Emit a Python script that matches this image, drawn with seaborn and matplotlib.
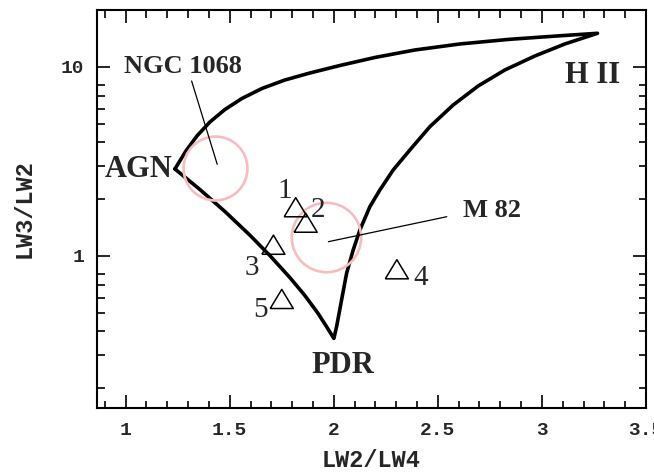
import matplotlib
matplotlib.use("Agg")
import matplotlib.pyplot as plt
from matplotlib.ticker import FixedLocator, NullFormatter
import numpy as np
import pandas as pd
import seaborn as sns

# Model boundary: AGN -> H II (upper branch)
upper_x = [1.2368, 1.2896, 1.3425, 1.4049, 1.4770, 1.5586, 1.6547, 1.7651,
           1.8852, 2.0293, 2.1974, 2.3895, 2.6057, 2.8458, 3.0860, 3.2671]
upper_y = [2.882, 3.587, 4.305, 5.105, 5.941, 6.792, 7.671, 8.506,
           9.262, 10.146, 11.186, 12.254, 13.183, 13.957, 14.565, 15.013]

# H II -> PDR branch
right_x = [3.2671, 3.1100, 2.9659, 2.8218, 2.6935, 2.5735, 2.4616, 2.3655, 2.2853,
           2.2214, 2.1734, 2.1254, 2.0932, 2.0615, 2.0375, 2.0134, 2.0005]
right_y = [15.013, 13.183, 11.389, 9.608, 7.907, 6.275, 4.820, 3.631, 2.847,
           2.232, 1.822, 1.372, 1.076, 0.810, 0.586, 0.423, 0.367]

# PDR -> AGN branch
lower_x = [2.0005, 1.9669, 1.9236, 1.8612, 1.7891, 1.6931, 1.5970, 1.4769, 1.3569, 1.2368]
lower_y = [0.367, 0.4205, 0.499, 0.618, 0.769, 1.005, 1.288, 1.718, 2.245, 2.882]

# Observed regions
src_labels = ["1", "2", "3", "4", "5"]
src_x = [1.817, 1.865, 1.710, 2.303, 1.750]
src_y = [1.81, 1.50, 1.147, 0.851, 0.593]

# Reference galaxies (circled)
gal_names = ["NGC 1068", "M 82"]
gal_x = [1.428, 1.961]
gal_y = [2.91, 1.26]

# Leader lines from galaxy names to circles
ngc_line_x = [1.317, 1.440]
ngc_line_y = [8.40, 3.05]
m82_line_x = [2.543, 1.974]
m82_line_y = [1.613, 1.190]

x_major = [1, 1.5, 2, 2.5, 3, 3.5]
x_major_labels = ["1", "1.5", "2", "2.5", "3", "3.5"]
y_major = [1, 10]
y_major_labels = ["1", "10"]

sns.set_style("ticks")
plt.rcParams["font.family"] = ["Liberation Serif", "DejaVu Serif"]

fig = plt.figure(figsize=(6.54, 4.73), dpi=100)
ax = fig.add_axes([0.14832, 0.13742, 0.83945, 0.84144])

boundary = pd.concat([
    pd.DataFrame({"x": upper_x, "y": upper_y}),
    pd.DataFrame({"x": right_x[1:], "y": right_y[1:]}),
    pd.DataFrame({"x": lower_x[1:], "y": lower_y[1:]}),
], ignore_index=True)
sns.lineplot(data=boundary, x="x", y="y", sort=False, estimator=None,
             color="black", linewidth=2.6, ax=ax)
ax.lines[-1].set_solid_joinstyle("round")

# circles around the reference galaxies
ax.plot(gal_x[:1], gal_y[:1], linestyle="none", marker="o", markersize=46,
        markerfacecolor="none", markeredgecolor="#f7bdbd", markeredgewidth=1.9)
ax.plot(gal_x[1:], gal_y[1:], linestyle="none", marker="o", markersize=50,
        markerfacecolor="none", markeredgecolor="#f7bdbd", markeredgewidth=1.9)

ax.plot(ngc_line_x, ngc_line_y, color="black", linewidth=0.9)
ax.plot(m82_line_x, m82_line_y, color="black", linewidth=0.9)

tri = [(-1.0, -0.83), (1.0, -0.83), (0.0, 0.83), (-1.0, -0.83)]
sns.scatterplot(x=src_x, y=src_y, marker=tri, s=16.6 ** 2, facecolor="none",
                edgecolor="black", linewidth=1.1, ax=ax, zorder=4)

offsets = {"1": (-7.7, 6.4), "2": (9.1, 4.2), "3": (-15.9, -21.8),
           "4": (17.4, -11.3), "5": (-15.6, -12.7)}
for lab, xv, yv in zip(src_labels, src_x, src_y):
    ax.annotate(lab, (xv, yv), xytext=offsets[lab], textcoords="offset points",
                ha="center", va="baseline", fontsize=21)

ax.text(1.064, 2.604, "AGN", ha="center", va="baseline", fontsize=22, fontweight="bold")
ax.text(2.042, 0.2417, "PDR", ha="center", va="baseline", fontsize=22, fontweight="bold")
ax.text(3.244, 8.17, "H II", ha="center", va="baseline", fontsize=22, fontweight="bold")
ax.text(1.273, 9.30, gal_names[0], ha="center", va="baseline", fontsize=19, fontweight="bold")
ax.text(2.7625, 1.60, gal_names[1], ha="center", va="baseline", fontsize=19, fontweight="bold")

ax.set_xscale("linear")
ax.set_yscale("log")
ax.set_xlim(0.8624, 3.5)
ax.set_ylim(0.1574, 19.93)

ax.xaxis.set_major_locator(FixedLocator(x_major))
ax.set_xticklabels(x_major_labels)
ax.xaxis.set_minor_locator(FixedLocator(np.round(np.arange(0.9, 3.45, 0.1), 2)))
ax.yaxis.set_major_locator(FixedLocator(y_major))
ax.set_yticklabels(y_major_labels)
ax.yaxis.set_minor_locator(FixedLocator([0.2, 0.3, 0.4, 0.5, 0.6, 0.7, 0.8,
                                         2, 3, 4, 5, 6, 7, 8]))
ax.yaxis.set_minor_formatter(NullFormatter())

mono = "Liberation Mono"
ax.tick_params(which="both", direction="in", top=True, right=True, width=1.2,
               color="black")
ax.tick_params(which="major", length=9.4)
ax.tick_params(which="minor", length=5.4)
ax.tick_params(axis="x", which="major", pad=10)
ax.tick_params(axis="y", which="major", pad=9)
for lbl in ax.get_xticklabels() + ax.get_yticklabels():
    lbl.set_fontfamily(mono)
    lbl.set_fontsize(14)
    lbl.set_fontweight("bold")

ax.set_xlabel("LW2/LW4", fontfamily=mono, fontsize=17, fontweight="bold", labelpad=7)
ax.set_ylabel("LW3/LW2", fontfamily=mono, fontsize=17, fontweight="bold", labelpad=18)

for sp in ax.spines.values():
    sp.set_visible(True)
    sp.set_linewidth(1.5)
    sp.set_color("black")

fig.savefig("out.png", dpi=100, facecolor="white")
